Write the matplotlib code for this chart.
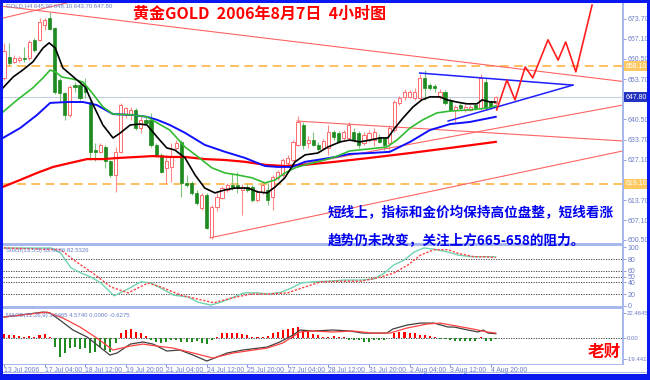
import numpy as np
import matplotlib
matplotlib.use("Agg")
import matplotlib.pyplot as plt
from matplotlib.patches import Rectangle

# ---------------- data ----------------
open_ = [654.0, 661.2, 659.6, 660.2, 660.9, 660.7, 666.8, 666.8, 671.7, 673.9,
         670.6, 653.5, 649.1, 641.9, 651.8, 651.8, 651.3, 646.3, 630.3, 629.8,
         631.4, 626.5, 622.0, 629.8, 642.0, 642.0, 643.6, 637.5, 640.3, 640.3,
         632.0, 628.7, 624.5, 624.7, 631.0, 633.0, 619.5, 619.4, 616.0, 611.0,
         615.4, 601.5, 611.4, 614.4, 617.1, 618.7, 618.7, 617.1, 618.1, 618.1,
         613.8, 616.5, 617.1, 614.8, 621.1, 622.0, 626.0, 627.0, 632.0, 638.6,
         632.6, 633.6, 632.0, 631.0, 631.0, 636.3, 636.0, 634.3, 634.3, 636.3,
         636.0, 632.6, 633.6, 633.6, 634.6, 634.3, 632.6, 636.9, 645.9, 647.9,
         647.9, 647.5, 647.5, 654.2, 651.8, 651.5, 647.9, 649.5, 646.9, 643.6,
         645.2, 643.6, 643.6, 645.2, 644.2, 652.9, 646.2, 645.9]
high = [665.7, 665.6, 661.8, 661.5, 664.5, 666.8, 667.3, 673.9, 673.9, 676.1,
        671.2, 654.1, 649.4, 651.8, 652.9, 652.4, 654.1, 646.9, 632.5, 632.5,
        631.8, 627.0, 631.4, 645.8, 644.7, 644.7, 644.1, 641.9, 641.4, 642.5,
        632.5, 629.2, 628.5, 632.6, 633.6, 633.6, 622.0, 620.0, 617.0, 616.0,
        616.0, 612.0, 616.0, 618.5, 619.4, 622.7, 623.0, 619.0, 619.0, 618.7,
        617.1, 619.4, 619.4, 622.0, 623.7, 627.7, 628.7, 633.6, 641.6, 639.6,
        635.0, 636.3, 633.0, 634.0, 638.5, 637.0, 636.5, 637.0, 639.6, 637.6,
        636.5, 636.3, 637.0, 637.6, 635.5, 634.6, 638.6, 646.9, 648.2, 650.5,
        650.2, 650.9, 655.5, 656.8, 652.5, 652.2, 650.5, 650.2, 647.5, 645.2,
        645.9, 645.5, 645.2, 645.9, 655.5, 654.2, 646.9, 648.1]
low = [653.5, 658.5, 659.0, 659.5, 659.6, 660.0, 662.9, 666.5, 670.1, 670.1,
       649.0, 646.3, 640.3, 641.4, 649.6, 646.9, 647.4, 627.0, 626.5, 629.2,
       624.2, 621.5, 616.5, 629.2, 640.8, 640.3, 637.0, 635.8, 638.6, 631.4,
       628.1, 622.6, 619.5, 619.7, 630.3, 614.8, 618.0, 615.5, 612.0, 610.5,
       604.0, 600.7, 610.0, 614.0, 616.5, 617.2, 616.1, 608.8, 616.5, 613.2,
       613.2, 615.8, 612.1, 610.5, 620.4, 621.4, 625.4, 626.5, 631.5, 630.5,
       631.0, 631.5, 630.0, 630.3, 628.7, 633.5, 632.5, 633.6, 633.6, 633.0,
       631.0, 632.0, 633.0, 631.5, 632.5, 630.3, 630.3, 636.3, 645.2, 646.9,
       647.5, 646.9, 647.2, 646.9, 650.2, 649.5, 647.2, 645.2, 643.2, 639.6,
       643.6, 643.0, 643.2, 643.6, 643.6, 643.6, 644.0, 643.7]
close = [663.0, 659.0, 660.7, 660.8, 660.4, 666.2, 663.4, 672.8, 673.4, 670.4,
         649.6, 649.1, 641.9, 651.3, 651.2, 647.4, 649.6, 629.8, 629.8, 632.0,
         626.5, 622.0, 629.8, 645.2, 644.1, 643.6, 637.5, 640.3, 639.2, 632.0,
         628.7, 623.1, 626.5, 628.0, 632.6, 619.4, 618.8, 616.1, 612.8, 615.4,
         604.5, 611.4, 614.8, 617.7, 618.7, 617.7, 617.8, 618.1, 617.1, 613.8,
         616.5, 618.7, 613.8, 621.4, 623.0, 627.0, 627.7, 633.0, 639.6, 632.0,
         633.6, 632.0, 630.5, 633.3, 636.3, 634.6, 633.0, 636.3, 638.6, 633.6,
         632.0, 635.3, 636.0, 636.3, 633.0, 632.0, 637.6, 646.2, 647.5, 649.5,
         649.5, 649.5, 654.2, 650.9, 650.9, 650.9, 649.5, 645.9, 643.6, 644.6,
         644.2, 644.6, 644.6, 644.2, 654.2, 644.2, 644.6, 647.8]

# moving averages (bar position, price)
ma_black_x = [-0.2, 1.8, 3.7, 5.7, 7.7, 8.9, 10.1, 11.6, 14.4, 16.0, 17.6, 19.5, 21.5, 22.9, 24.9,
              26.8, 28.2, 30.2, 32.1, 33.7, 35.7, 37.7, 39.6, 41.6, 43.6, 45.6, 48.1, 50.1, 51.9,
              53.5, 55.4, 57.4, 59.4, 61.9, 63.9, 66.3, 68.2, 70.2, 72.2, 74.2, 75.7, 77.1, 78.7,
              80.7, 82.4, 84.0, 86.0, 87.4, 89.3, 91.3, 93.3, 94.3, 95.9, 97.0]
ma_black_y = [650.9, 654.5, 656.8, 659.5, 664.1, 665.8, 664.1, 657.5, 653.5, 651.2, 645.2, 638.6,
              634.3, 635.9, 638.6, 638.9, 638.6, 634.6, 631.0, 630.3, 627.7, 622.0, 617.7, 616.1,
              617.1, 617.7, 617.7, 616.4, 616.1, 618.1, 621.1, 626.4, 628.7, 629.3, 631.3, 633.0,
              633.6, 633.0, 633.6, 634.3, 634.3, 637.6, 640.9, 644.6, 646.9, 647.9, 647.9, 646.9,
              646.2, 645.6, 645.6, 646.9, 646.2, 646.2]
ma_green_x = [-0.2, 2.6, 5.7, 7.7, 9.1, 10.1, 11.4, 13.6, 15.6, 17.4, 19.5, 21.5, 25.4, 28.2, 30.2,
              32.7, 35.7, 38.3, 41.0, 43.6, 46.2, 48.9, 51.5, 53.5, 55.4, 57.4, 59.4, 61.9, 65.3,
              68.2, 72.2, 75.5, 77.5, 80.1, 82.6, 85.4, 88.0, 91.9, 95.3, 97.0]
ma_green_y = [642.9, 646.9, 650.9, 654.2, 656.8, 656.2, 654.5, 653.8, 652.8, 649.2, 644.6, 642.2,
              641.9, 641.3, 639.3, 636.9, 631.3, 628.0, 624.4, 622.7, 622.0, 621.1, 619.4, 620.4,
              622.7, 624.4, 625.4, 626.4, 628.0, 630.0, 630.7, 631.3, 633.6, 637.6, 640.3, 642.6,
              643.2, 643.6, 644.2, 644.9]
ma_blue_x = [-0.2, 3.2, 6.5, 9.1, 12.4, 15.6, 18.3, 21.5, 25.4, 28.2, 30.2, 32.7, 35.7, 39.6, 43.6,
             47.5, 51.5, 54.0, 56.8, 59.4, 62.9, 65.3, 68.2, 72.2, 76.1, 80.1, 84.0, 88.0, 91.9, 97.0]
ma_blue_y = [634.3, 637.6, 641.9, 645.9, 646.2, 646.2, 645.2, 642.2, 641.9, 641.3, 640.3, 638.6,
             636.0, 632.0, 629.7, 627.7, 625.0, 624.7, 624.7, 626.4, 627.3, 628.0, 629.0, 629.3,
             629.7, 633.0, 636.9, 638.9, 639.6, 641.3]
ma_red_x = [-0.2, 3.2, 6.5, 9.7, 13.0, 16.4, 19.5, 22.9, 26.2, 29.4, 32.7, 35.7, 39.6, 43.6, 47.5,
            51.5, 55.4, 59.4, 62.9, 65.3, 72.2, 80.1, 88.0, 97.0]
ma_red_y = [618.1, 620.4, 622.7, 624.7, 626.0, 627.3, 627.3, 627.7, 628.0, 628.3, 628.0, 628.0,
            627.3, 627.0, 626.4, 625.4, 625.0, 625.4, 626.0, 626.4, 627.7, 629.3, 631.0, 633.0]

# trend lines: (x0, y0, x1, y1) in bars / price
trend_red = [(-0.2, 677.9, 122.1, 653.0),
             (-0.2, 674.0, 16.0, 680.5),
             (40.6, 601.2, 122.1, 630.0),
             (56.4, 624.9, 122.1, 645.2),
             (57.8, 639.9, 122.1, 633.3)]
trend_blue = [(82.0, 655.8, 112.2, 651.8),
              (87.6, 639.9, 112.2, 651.8)]
zigzag_x = [97.2, 99.2, 100.8, 102.8, 104.3, 107.3, 109.3, 110.8, 112.8, 116.0]
zigzag_y = [643.6, 653.5, 646.9, 657.8, 654.2, 666.8, 660.1, 666.1, 656.2, 678.3]
hlines_orange = [658.1, 619.1]
last_price = 647.8

price_ticks = [673.7, 667.1, 660.5, 653.7, 640.5, 633.7, 627.1, 613.7, 607.1, 600.5]

# stochastic
stoch_k_x = [0, 9.3, 11.2, 13.2, 15.2, 17.2, 19.1, 21.7, 24.5, 27.0, 29.0, 31.6, 33.5, 36.3, 38.3,
             40.8, 42.8, 45.4, 47.3, 50.1, 52.1, 54.6, 56.6, 58.6, 61.1, 63.9, 67.1, 70.4, 73.0,
             75.0, 76.9, 78.9, 80.9, 82.8, 84.8, 87.6, 89.5, 92.1, 94.7, 97.0]
stoch_k = [99, 99, 90, 65, 56, 49, 39, 17, 29, 41, 39, 27, 18, 15, 6, 1, 6, 15, 22, 22, 20, 23, 30,
           39, 41, 42, 44, 44, 46, 56, 70, 78, 92, 99, 97, 92, 87, 84, 84, 83.9]
stoch_d_x = [0, 11.2, 13.8, 17.2, 21.1, 24.5, 28.4, 31.0, 34.9, 38.9, 41.4, 44.8, 48.7, 52.1, 56.0,
             58.6, 62.5, 66.5, 70.4, 73.8, 76.9, 79.7, 82.2, 84.8, 87.6, 89.5, 92.7, 94.7, 97.0]
stoch_d = [99, 96, 78, 58, 32, 22, 39, 32, 18, 10, 5, 13, 20, 20, 22, 30, 41, 42, 42, 48, 56, 70,
           87, 96, 96, 90, 84, 84, 82.5]
stoch_levels = [80, 60, 50, 40, 20]
stoch_ticks = [100, 80, 60, 50, 40, 20, 0]

# MACD
macd_x = [0, 3.2, 7.7, 9.1, 11.0, 13.6, 16.4, 18.9, 20.9, 22.3, 24.9, 27.4, 29.4, 32.1, 34.7, 37.3,
          40.0, 42.0, 44.0, 47.1, 51.9, 54.4, 57.0, 58.4, 60.9, 64.9, 68.2, 70.8, 75.5, 76.7, 79.5,
          82.1, 84.8, 87.6, 88.8, 91.5, 93.5, 94.5, 95.5, 97.0]
macd_v = [19.1, 20.9, 23.6, 22.7, 16.4, 7.3, 0.9, -8.2, -15.5, -13.6, -5.5, -3.6, -5.5, -11.8, -10.9,
          -15.5, -20.9, -17.3, -13.6, -10.9, -8.2, -3.6, 2.7, 7.3, 6.4, 7.3, 6.4, 4.5, 4.5, 8.2, 11.8,
          13.6, 13.6, 10.0, 10.0, 7.3, 5.5, 7.3, 4.5, 3.95]
signal_x = [0, 8.5, 11.6, 15.0, 18.3, 21.5, 24.9, 27.4, 30.2, 33.3, 37.3, 41.2, 45.2, 51.9, 55.0,
            58.4, 60.9, 64.9, 68.8, 72.8, 76.1, 79.5, 83.4, 86.0, 89.3, 92.5, 95.3, 97.0]
signal_v = [19.1, 23.6, 18.2, 10.0, 0.0, -10.9, -7.3, -5.5, -7.3, -9.1, -13.6, -18.2, -13.6, -9.1,
            -4.5, 5.5, 6.4, 5.5, 6.4, 4.5, 4.5, 9.1, 12.7, 13.6, 10.9, 8.2, 5.5, 4.57]
hist = [3.6, 2.7, 2.7, 1.8, 0.9, 1.8, 0.9, 2.7, 3.6, 0.9,
        -7.9, -17.0, -13.6, -9.1, -8.2, -10.0, -9.1, -13.6, -12.7, -8.2, -10.9, -12.7, -4.5,
        4.5, 7.3, 8.2, 5.5, 4.5, 1.4,
        -1.8, -3.6, -4.5, -3.6, -1.8, -1.8, -3.6, -3.6, -3.6, -2.7, -4.5, -5.5, -2.0,
        0.5,
        4.8, 4.8, 4.3, 4.3, 3.6, 2.7, 1.2, 0.6, 1.2, 1.8, 4.3, 5.7, 7.3, 7.9, 8.8, 10.3,
        7.3, 5.7, 3.6, 2.7, 1.2, 1.2, 1.8, 1.2, 0.6,
        -1.8, -1.8, -1.8, -3.4, -3.4, -1.8, -1.8, -1.8, -0.3,
        4.3, 5.7, 5.7, 4.8, 4.3, 2.7, 2.7, 1.8, 0.6,
        -1.2, -1.2, -1.8, -2.7, -3.0, -3.0, -3.0, -3.0, 1.2, -2.3, -2.3, -0.6]
macd_ticks = [22.4645, 0.0, -19.4418]
macd_tick_labels = ['22.4645', '0.00', '-19.4418']

time_tick_bars = [0, 8, 16, 24, 32, 40, 48, 56, 64, 72, 80, 88, 96]
time_tick_labels = ['13 Jul 2006', '17 Jul 04:00', '18 Jul 12:00', '19 Jul 20:00', '21 Jul 04:00',
                    '24 Jul 12:00', '25 Jul 20:00', '27 Jul 04:00', '28 Jul 12:00', '31 Jul 20:00',
                    '2 Aug 04:00', '3 Aug 12:00', '4 Aug 20:00']

title_text = '黄金GOLD  2006年8月7日  4小时图'
note_line1 = '短线上，指标和金价均保持高位盘整，短线看涨'
note_line2 = '趋势仍未改变，关注上方665-658的阻力。'
signature = '老财'
header_main = 'GOLD,H4 645.90 648.10 643.70 647.80'
header_stoch = 'Stoch(13,5,5) 83.9106 82.5326'
header_macd = 'MACD(12,26,9) 3.9465 4.5740 0.0000 -0.6275'

# ---------------- drawing ----------------
plt.rcParams['font.family'] = ['Liberation Sans', 'DejaVu Sans']
CJK = ['Noto Sans CJK SC', 'DejaVu Sans']
W, H = 650, 380
fig = plt.figure(figsize=(W / 100, H / 100), dpi=100)
fig.patch.set_facecolor('white')

LAB = '#6a7cc8'
SEP = '#a9b8ec'
FRAME = '#0a18f0'


def box(x0, y0, x1, y1):
    return [x0 / W, 1 - y1 / H, (x1 - x0) / W, (y1 - y0) / H]


def frect(x0, y0, x1, y1, c, z=20):
    fig.patches.append(Rectangle((x0 / W, 1 - y1 / H), (x1 - x0) / W, (y1 - y0) / H,
                                 transform=fig.transFigure, facecolor=c, edgecolor='none',
                                 zorder=z))


ax = fig.add_axes(box(3, 3, 623, 243))
axs = fig.add_axes(box(3, 246, 623, 306))
axm = fig.add_axes(box(3, 309, 623, 364))
for a in (ax, axs, axm):
    a.set_xlim(-0.2, 122.1)
    a.set_facecolor('white')
    for s in a.spines.values():
        s.set_visible(False)
    a.yaxis.tick_right()
    a.tick_params(axis='y', direction='out', length=2, width=0.5, color=LAB,
                  labelcolor=LAB, labelsize=5, pad=1.2)
    a.tick_params(axis='x', bottom=False, labelbottom=False)

# --- main price panel
ax.set_ylim(599.5, 679.0)
ax.set_yticks(price_ticks)
ax.set_yticklabels(['%.2f' % v for v in price_ticks])

idx = np.arange(len(close))
o = np.array(open_); c = np.array(close); hi = np.array(high); lo = np.array(low)
up = c >= o
blo = np.minimum(o, c)
bh = np.maximum(np.abs(c - o), 0.25)
ax.vlines(idx[up], lo[up], hi[up], color='#ff8a8a', lw=0.8, zorder=2)
ax.vlines(idx[~up], lo[~up], hi[~up], color='#7cc27c', lw=0.8, zorder=2)
ax.bar(idx[up], bh[up], bottom=blo[up], width=0.62, facecolor='white', edgecolor='#ff6a6a',
       lw=0.7, zorder=3)
ax.bar(idx[~up], bh[~up], bottom=blo[~up], width=0.62, facecolor='#1f8a1f', edgecolor='#1f8a1f',
       lw=0.5, zorder=3)

ax.axhline(last_price, color='#c8cce0', lw=0.8, zorder=1)
for v in hlines_orange:
    ax.axhline(v, color='#ffbf60', lw=1.4, linestyle=(0, (4.5, 2.8)), zorder=1)

for (x0, y0, x1, y1) in trend_red:
    ax.plot([x0, x1], [y0, y1], color='#ff6464', lw=0.8, zorder=4)
for (x0, y0, x1, y1) in trend_blue:
    ax.plot([x0, x1], [y0, y1], color='#1e1eff', lw=1.1, zorder=4)
ax.plot(zigzag_x, zigzag_y, color='#ff1e1e', lw=1.2, zorder=4)

ax.plot(ma_red_x, ma_red_y, color='#ff0000', lw=1.6, zorder=5)
ax.plot(ma_blue_x, ma_blue_y, color='#1010ff', lw=1.4, zorder=5)
ax.plot(ma_green_x, ma_green_y, color='#33bb33', lw=1.2, zorder=5)
ax.plot(ma_black_x, ma_black_y, color='#000000', lw=1.2, zorder=6)


def tag(a, val, text, fc):
    a.text(1.004, val, text, transform=a.get_yaxis_transform(), ha='left', va='center',
           fontsize=5, color='white', clip_on=False, zorder=30,
           bbox=dict(boxstyle='square,pad=0.25', fc=fc, ec='none'))


tag(ax, last_price, '%.2f' % last_price, '#2434c0')
for v in hlines_orange:
    tag(ax, v, '%.2f' % v, '#ffc860')

# --- stochastic panel
axs.set_ylim(-0.5, 102.4)
axs.set_yticks(stoch_ticks)
axs.set_yticklabels([str(v) for v in stoch_ticks])
for lv in stoch_levels:
    axs.axhline(lv, color='#303030', lw=0.6, linestyle=(0, (1.5, 1.5)), zorder=1)
axs.plot(stoch_k_x, stoch_k, color='#70d4b0', lw=1.0, zorder=3)
axs.plot(stoch_d_x, stoch_d, color='#ff4040', lw=1.0, linestyle=(0, (1.6, 1.2)), zorder=3)

# --- MACD panel
axm.set_ylim(-23.6, 26.4)
axm.set_yticks(macd_ticks)
axm.set_yticklabels(macd_tick_labels)
axm.tick_params(axis='y', labelsize=4.3, pad=1.0)
axm.axhline(0, color='#303030', lw=0.6, linestyle=(0, (1.5, 1.5)), zorder=1)
hv = np.array(hist)
axm.bar(idx[hv >= 0], hv[hv >= 0], width=0.4, color='#ff0000', zorder=2)
axm.bar(idx[hv < 0], hv[hv < 0], width=0.4, color='#1f8a1f', zorder=2)
axm.plot(macd_x, macd_v, color='#404040', lw=0.9, zorder=3)
axm.plot(signal_x, signal_v, color='#ff4040', lw=0.9, zorder=3)

axm.set_xticks(time_tick_bars)
axm.set_xticklabels(time_tick_labels)
axm.tick_params(axis='x', bottom=True, labelbottom=True, direction='out', length=2, width=0.6,
                color=LAB, labelcolor=LAB, labelsize=4.9, pad=0.3)
for lbl in axm.get_xticklabels():
    lbl.set_ha('left')

# --- frame, separators
frect(3, 243, 623, 246, SEP)
frect(3, 306, 623, 309, SEP)
frect(622.4, 3, 623.6, 364.5, SEP)
frect(3, 363.6, 623.6, 364.6, SEP)
frect(3, 372.2, 647, 373.2, SEP)
frect(0, 0, 3, 380, FRAME)
frect(0, 0, 650, 2.5, FRAME)
frect(647, 0, 650, 380, FRAME)
frect(0, 374, 650, 380, FRAME)

# --- texts
fig.text(6 / W, 1 - 6 / H, header_main, fontsize=4.3, color=LAB, va='center', ha='left')
fig.text(6 / W, 1 - 250.5 / H, header_stoch, fontsize=4.3, color=LAB, va='center', ha='left')
fig.text(6 / W, 1 - 315 / H, header_macd, fontsize=4.3, color=LAB, va='center', ha='left')

fig.text(133 / W, 1 - 14 / H, title_text, family=CJK, fontsize=11.5, color='#ff0000',
         fontweight='bold', fontstyle='italic', va='center', ha='left', zorder=40)
fig.text(328 / W, 1 - 213 / H, note_line1, family=CJK, fontsize=9.8, color='#0000ee',
         fontweight='bold', va='center', ha='left', zorder=40)
fig.text(328 / W, 1 - 240 / H, note_line2, family=CJK, fontsize=9.8, color='#0000ee',
         fontweight='bold', va='center', ha='left', zorder=40)
fig.text(588 / W, 1 - 352 / H, signature, family=CJK, fontsize=12, color='#ff0000',
         fontweight='bold', va='center', ha='left', zorder=40)

fig.savefig('out.png', dpi=100, facecolor='white')
